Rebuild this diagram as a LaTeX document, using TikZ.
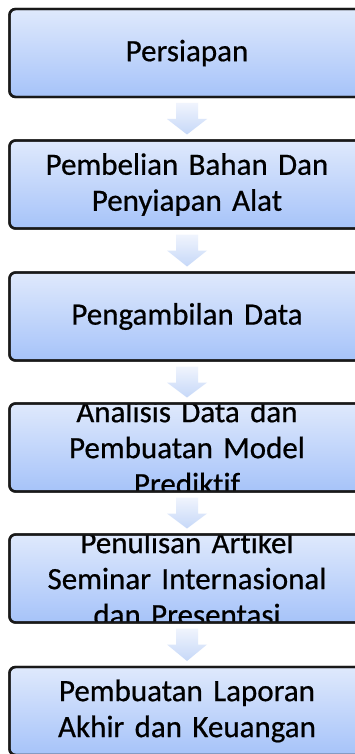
\documentclass[tikz,border=0pt]{standalone}
\usepackage{fontspec}
\setmainfont{Carlito}[Ligatures={NoCommon,NoContextual}, RawFeature={-liga;-clig;-calt}, FakeBold=0.6]
\usetikzlibrary{calc}

\definecolor{boxtop}{HTML}{DFE9FC}
\definecolor{boxbot}{HTML}{A6C3F9}
\definecolor{arrtop}{HTML}{F0F4FD}
\definecolor{arrbot}{HTML}{C6D8F8}

\tikzset{
  stage/.style={rectangle, rounded corners=6pt, minimum width=420pt,
    minimum height=88pt, inner sep=0pt, outer sep=0pt, anchor=west,
    top color=boxtop, bottom color=boxbot, draw=black!90, line width=2.4pt},
  stageedge/.style={rounded corners=6pt, draw=black!90, line width=2.4pt},
  stagetext/.style={text width=345pt, align=center, inner sep=0pt,
    font=\fontsize{31}{36}\selectfont, text=black},
  flowarrow/.style={top color=arrtop, bottom color=arrbot, draw=none},
}

\begin{document}
\begin{tikzpicture}[x=1pt, y=-1pt]
\useasboundingbox (0,0) rectangle (355,754);
% the boxes run past the right and bottom edges of the page
\clip (0,0) rectangle (355,754);
\fill[white] (0,0) rectangle (355,754);

% the six stage boxes, left edge at x = 9.5
\node[stage] (b1) at (9.5,53) {};
\node[stage] (b2) at (9.5,184.5) {};
\node[stage] (b3) at (9.5,316.5) {};
\node[stage] (b4) at (9.5,447.5) {};
\node[stage] (b5) at (9.5,578.5) {};
\node[stage] (b6) at (9.5,711) {};

% labels on the column x = 187, each clipped to its box
\foreach \b/\t in {b1/{Persiapan},
                   b2/{Pembelian Bahan Dan\\Penyiapan Alat},
                   b3/{Pengambilan Data},
                   b4/{Analisis Data dan\\Pembuatan Model\\Prediktif},
                   b5/{Penulisan Artikel\\Seminar Internasional\\dan Presentasi},
                   b6/{Pembuatan Laporan\\Akhir dan Keuangan}}{
  \begin{scope}
    \clip[rounded corners=6pt] (\b.north west) rectangle (\b.south east);
    \node[stagetext] (t\b) at (187,0 |- \b.center) {\t};
  \end{scope}
  \draw[stageedge] (\b.north west) rectangle (\b.south east);
}

% block arrows between consecutive stages
\foreach \a/\b in {b1/b2, b2/b3, b3/b4, b4/b5, b5/b6}{
  \path[flowarrow] let \p1=(\a.south), \p2=(\b.north), \p3=(t\a.center) in
    (\x3-11,\y1-6) -- (\x3+11,\y1-6) -- (\x3+11,\y1-22) -- (\x3+20,\y1-22)
    -- (\x3,\y2+6) -- (\x3-20,\y1-22) -- (\x3-11,\y1-22) -- cycle;
}
\end{tikzpicture}
\end{document}
